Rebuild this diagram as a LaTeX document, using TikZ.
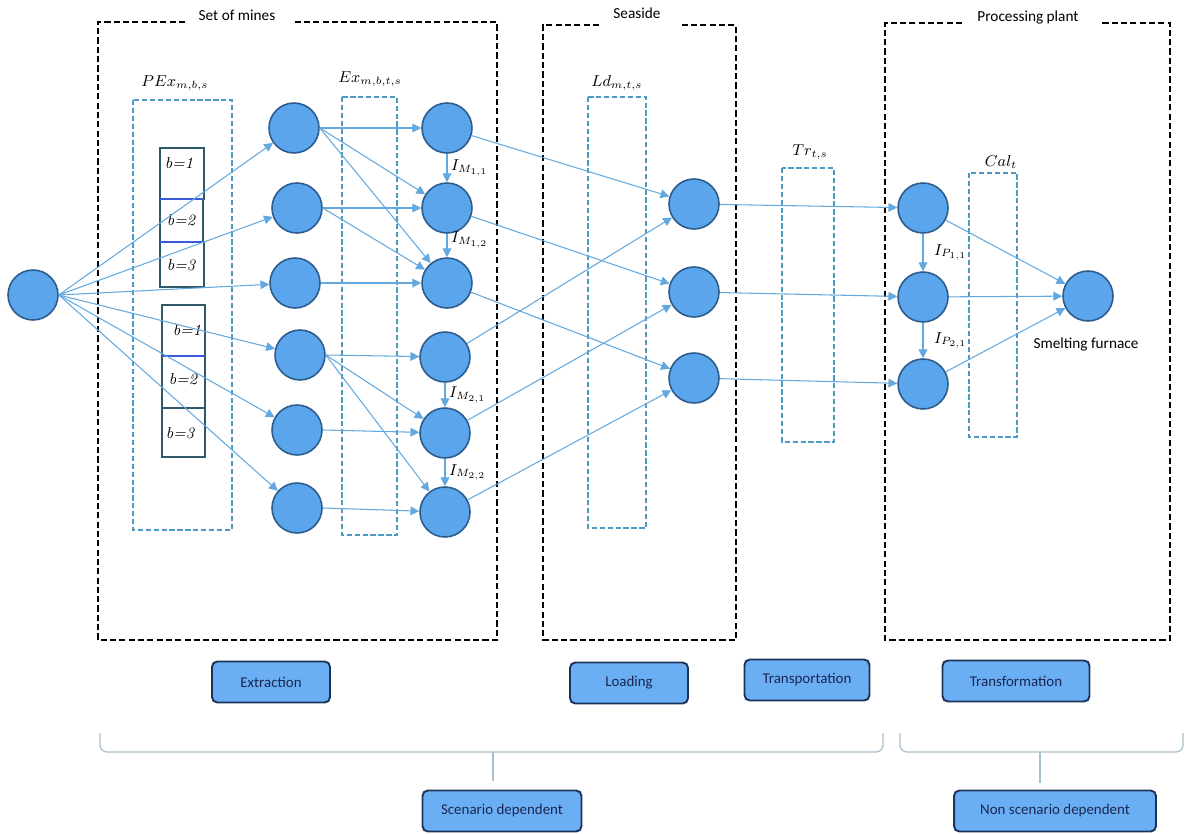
\documentclass[tikz,border=0pt]{standalone}
\usepackage{fontspec}
\newfontfamily\calib{Carlito}
\usetikzlibrary{arrows.meta}
\definecolor{nodefill}{HTML}{5AA5EC}
\definecolor{nodeline}{HTML}{2B5C8C}
\definecolor{flowline}{HTML}{63A9DF}
\definecolor{varline}{HTML}{4C9BC4}
\definecolor{blkline}{HTML}{2F5A6A}
\definecolor{blkblue}{HTML}{3A5BD8}
\definecolor{bracecol}{HTML}{A9BFCC}
\definecolor{btnfill}{HTML}{6AAEF4}
\definecolor{btnline}{HTML}{1E3358}
\definecolor{btntext}{HTML}{1B2750}
\begin{document}
\begin{tikzpicture}[x=0.02cm,y=-0.02cm,
  mine/.style={draw=nodeline,fill=nodefill,circle,line width=0.9pt,minimum size=1cm,inner sep=0pt},
  flow/.style={draw=flowline,line width=0.6pt,-{Triangle[length=5pt,width=5pt]}},
  group/.style={draw=black,line width=1.1pt,dash pattern=on 3.5pt off 1.8pt},
  var/.style={draw=varline,line width=0.8pt,dash pattern=on 3pt off 1.5pt},
  blk/.style={draw=blkline,line width=1pt},
  brace/.style={draw=bracecol,line width=0.7pt,rounded corners=4pt},
  btn/.style={draw=btnline,fill=btnfill,rounded corners=3pt,line width=1.1pt,minimum height=0.82cm,font=\calib\fontsize{8.5}{10}\selectfont,text=btntext},
  ttl/.style={font=\calib\fontsize{8.7}{10}\selectfont},
  lbl/.style={font=\fontsize{9}{10}\selectfont}]
\useasboundingbox (0,0) rectangle (1189,834);

% dashed groups
\draw[group] (185,22) -- (98,22) -- (98,640) -- (497,640) -- (497,22) -- (292,22);
\node[ttl] (mines) at (237,15) {Set of mines};
\draw[group] (599,25) -- (543,25) -- (543,640) -- (736,640) -- (736,25) -- (681,25);
\node[ttl] (sea) at (637,13) {Seaside};
\draw[group] (962,23) -- (885,23) -- (885,640) -- (1170,640) -- (1170,23) -- (1100,23);
\node[ttl] (plant) at (1028,18) {Processing plant};

% variables
\draw[var] (133,100) rectangle (232,530);
\node[lbl] (pex) at (175,83) {$PEx_{m,b,s}$};
\draw[var] (342,97) rectangle (397,535);
\node[lbl] (ex) at (370,79) {$Ex_{m,b,t,s}$};
\draw[var] (588,97) rectangle (646,528);
\node[lbl] (ld) at (617,83) {$Ld_{m,t,s}$};
\draw[var] (782,168) rectangle (834,442);
\node[lbl] (tr) at (810,152) {$Tr_{t,s}$};
\draw[var] (969,173) rectangle (1017,437);
\node[lbl] (cal) at (1001,162) {$Cal_{t}$};

% blocks
\draw[blk] (160,148) rectangle (204,199);
\draw[blk] (160,199) rectangle (203,242);
\draw[blk] (160,242) rectangle (204,287);
\draw[blkblue,line width=1.2pt] (160,199) -- (204,199);
\draw[blkblue,line width=1pt] (160,242) -- (203,242);
\node[lbl] (b1) at (179,163) {\itshape b=1};
\node[lbl] (b2) at (181,220) {\itshape b=2};
\node[lbl] (b3) at (181,265) {\itshape b=3};
\draw[blk] (162,305) rectangle (205,356);
\draw[blk] (162,356) rectangle (205,408);
\draw[blk] (162,408) rectangle (205,457);
\draw[blkblue,line width=1.2pt] (162,356) -- (205,356);
\node[lbl] (b4) at (187,330) {\itshape b=1};
\node[lbl] (b5) at (183,379) {\itshape b=2};
\node[lbl] (b6) at (180,433) {\itshape b=3};

% network
\node[mine] (src) at (33,295) {};
\node[mine] (a1) at (294,128) {};
\node[mine] (a2) at (297,208) {};
\node[mine] (a3) at (295,283) {};
\node[mine] (a4) at (300,355) {};
\node[mine] (a5) at (297,430) {};
\node[mine] (a6) at (297,508) {};
\node[mine] (e1) at (447,128) {};
\node[mine] (e2) at (447,208) {};
\node[mine] (e3) at (447,283) {};
\node[mine] (e4) at (445,357) {};
\node[mine] (e5) at (445,433) {};
\node[mine] (e6) at (445,512) {};
\node[mine] (l1) at (694,204) {};
\node[mine] (l2) at (694,292) {};
\node[mine] (l3) at (694,378) {};
\node[mine] (p1) at (923,208) {};
\node[mine] (p2) at (923,297) {};
\node[mine] (p3) at (923,384) {};
\node[mine] (f) at (1088,296) {};
\node[ttl] (fl) at (1086,345) {Smelting furnace};

\foreach \i in {1,...,6}
  \path[flow] (src.east) -- (a\i);
\foreach \a/\b in {1/1,1/2,1/3,2/2,2/3,3/3,4/4,4/5,4/6,5/5,6/6}
  \path[flow] (a\a.east) -- (e\b);
\path[flow] (e1) -- node[lbl,right,inner sep=2pt] {$I_{M_{1,1}}$} (e2);
\path[flow] (e2) -- node[lbl,right,inner sep=2pt,yshift=3pt] {$I_{M_{1,2}}$} (e3);
\path[flow] (e4) -- node[lbl,right,inner sep=2pt] {$I_{M_{2,1}}$} (e5);
\path[flow] (e5) -- node[lbl,right,inner sep=2pt] {$I_{M_{2,2}}$} (e6);
\foreach \a/\b in {1/1,2/2,3/3,4/1,5/2,6/3}
  \path[flow] (e\a) -- (l\b);
\foreach \i in {1,2,3}
  \path[flow] (l\i) -- (p\i);
\path[flow] (p1) -- node[lbl,right,inner sep=6pt] {$I_{P_{1,1}}$} (p2);
\path[flow] (p2) -- node[lbl,right,inner sep=6pt] {$I_{P_{2,1}}$} (p3);
\foreach \i in {1,2,3}
  \path[flow] (p\i) -- (f);

% stages
\node[btn,minimum width=2.36cm] (ext) at (271,682) {Extraction};
\node[btn,minimum width=2.36cm] (load) at (629,683) {Loading};
\node[btn,minimum width=2.5cm] (trans) at (807,680) {Transportation};
\node[btn,minimum width=2.94cm] (tform) at (1016,681) {Transformation};
\node[btn,minimum width=3.18cm] (scen) at (502,811) {Scenario dependent};
\node[btn,minimum width=4.04cm] (nscen) at (1055,811) {Non scenario dependent};

% braces
\coordinate (br1) at (493,752);
\coordinate (br1e) at (493,781);
\coordinate (br2) at (1040,752);
\coordinate (br2e) at (1040,783);
\draw[brace] (100,733) -- (100,752) -- (883,752) -- (883,733);
\draw[brace] (900,733) -- (900,752) -- (1183,752) -- (1183,733);
\draw[brace] (br1) -- (br1e);
\draw[brace] (br2) -- (br2e);
\end{tikzpicture}
\end{document}
